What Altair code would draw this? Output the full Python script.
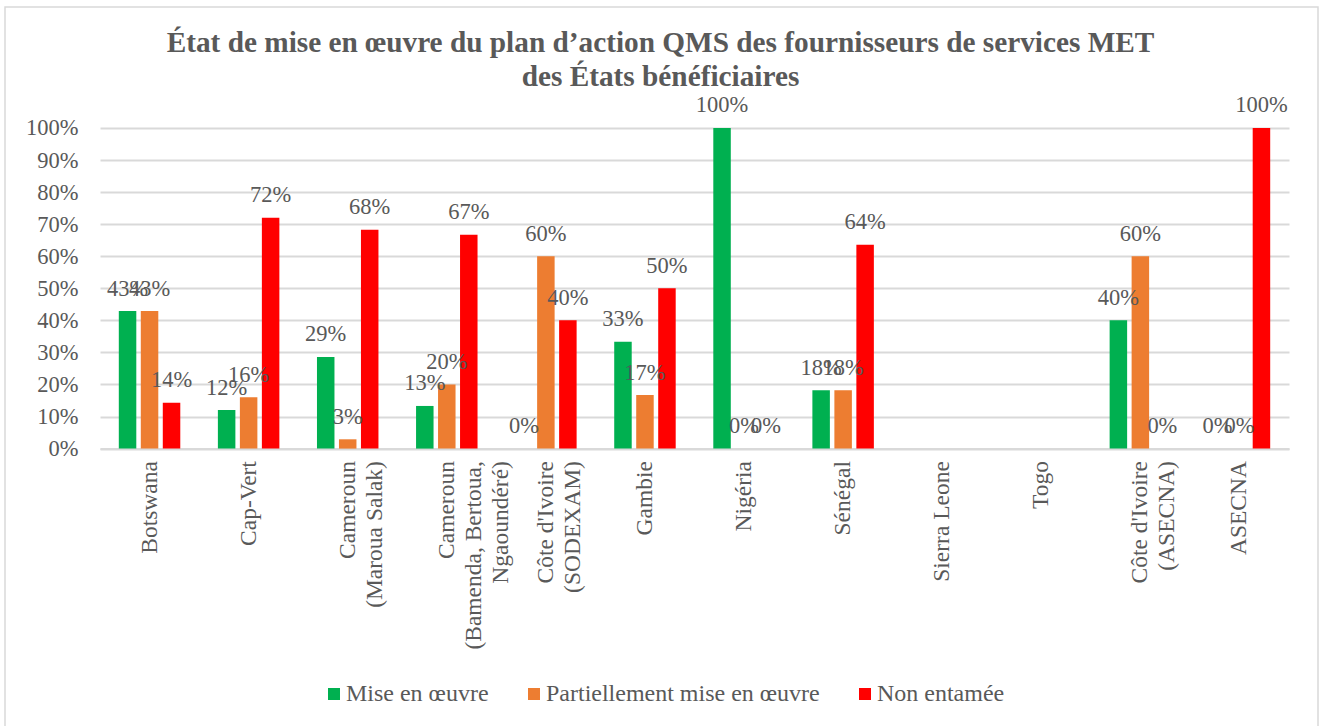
import altair as alt
import pandas as pd

categories = [
    "Botswana",
    "Cap-Vert",
    "Cameroun|(Maroua Salak)",
    "Cameroun|(Bamenda, Bertoua,|Ngaoundéré)",
    "Côte d'Ivoire|(SODEXAM)",
    "Gambie",
    "Nigéria",
    "Sénégal",
    "Sierra Leone",
    "Togo",
    "Côte d'Ivoire|(ASECNA)",
    "ASECNA",
]
series = ["Mise en œuvre", "Partiellement mise en œuvre", "Non entamée"]
colors = ["#00B050", "#ED7D31", "#FF0000"]

mise = [0.429, 0.12, 0.286, 0.133, 0.0, 0.333, 1.0, 0.182, None, None, 0.40, 0.0]
partiel = [0.429, 0.16, 0.029, 0.20, 0.60, 0.167, 0.0, 0.182, None, None, 0.60, 0.0]
non = [0.143, 0.72, 0.683, 0.667, 0.40, 0.50, 0.0, 0.636, None, None, 0.0, 1.0]

title_lines = [
    "État de mise en œuvre du plan d’action QMS des fournisseurs de services MET",
    "des États bénéficiaires",
]
y_ticks = [0, 0.1, 0.2, 0.3, 0.4, 0.5, 0.6, 0.7, 0.8, 0.9, 1.0]

rows = []
for s, vals in zip(series, [mise, partiel, non]):
    for c, v in zip(categories, vals):
        rows.append({"cat": c, "series": s, "value": v})
df = pd.DataFrame(rows)

FONT = "Liberation Serif"
GRAY = "#595959"
GRID = "#d9d9d9"

x_enc = alt.X(
    "cat:N",
    sort=categories,
    scale=alt.Scale(domain=categories, paddingInner=0.3, paddingOuter=0.15),
    axis=alt.Axis(
        title=None,
        labelAngle=-90,
        labelAlign="right",
        labelBaseline="middle",
        labelExpr="split(datum.label, '|')",
        labelFont=FONT,
        labelFontSize=23.5,
        labelColor=GRAY,
        labelPadding=12,
        labelLineHeight=27,
        labelLimit=0,
        ticks=False,
        domainColor=GRID,
        domainWidth=2,
        grid=False,
    ),
)
xoff_enc = alt.XOffset(
    "series:N",
    sort=series,
    scale=alt.Scale(domain=series, paddingInner=0.2045, paddingOuter=0.179),
)
y_enc = alt.Y(
    "value:Q",
    scale=alt.Scale(domain=[0, 1]),
    axis=alt.Axis(
        title=None,
        format=".0%",
        values=y_ticks,
        labelFont=FONT,
        labelFontSize=22.5,
        labelColor=GRAY,
        labelPadding=22,
        ticks=False,
        domain=False,
        gridColor=GRID,
        gridWidth=2,
    ),
)

base = alt.Chart(df).encode(x=x_enc, xOffset=xoff_enc, y=y_enc)

bars = base.mark_bar().encode(
    color=alt.Color(
        "series:N",
        sort=series,
        scale=alt.Scale(domain=series, range=colors),
        legend=alt.Legend(
            title=None,
            orient="none",
            legendX=222,
            legendY=554,
            direction="horizontal",
            symbolType="square",
            symbolSize=144,
            symbolStrokeWidth=0,
            labelFont=FONT,
            labelFontSize=24,
            labelColor=GRAY,
            labelOffset=0,
            columnPadding=33,
            labelLimit=0,
        ),
    )
)

labels = base.transform_filter("isValid(datum.value)").mark_text(
    baseline="alphabetic",
    dy=-15.5,
    font=FONT,
    fontSize=22.5,
    color=GRAY,
).encode(text=alt.Text("value:Q", format=".0%"))

frame = alt.Chart(pd.DataFrame({"f": [0]})).mark_rect(
    fillOpacity=0, stroke=GRID, strokeWidth=1.5
).encode(
    x=alt.value(-95), x2=alt.value(1218), y=alt.value(-121), y2=alt.value(610)
)

chart = (
    alt.layer(frame, bars, labels)
    .properties(
        width=1189,
        height=320.6,
        autosize=alt.AutoSizeParams(type="none"),
        padding={"left": 100, "top": 128, "right": 31, "bottom": 278},
        background="white",
        title=alt.TitleParams(
            text=title_lines,
            font=FONT,
            fontSize=29.3,
            fontWeight="bold",
            color=GRAY,
            lineHeight=34,
            anchor="middle",
            frame="group",
            dx=-34,
            offset=-86.5,
        ),
    )
    .configure_view(stroke="transparent")
)

chart.save("out.html", embed_options={"renderer": "svg", "actions": False})
